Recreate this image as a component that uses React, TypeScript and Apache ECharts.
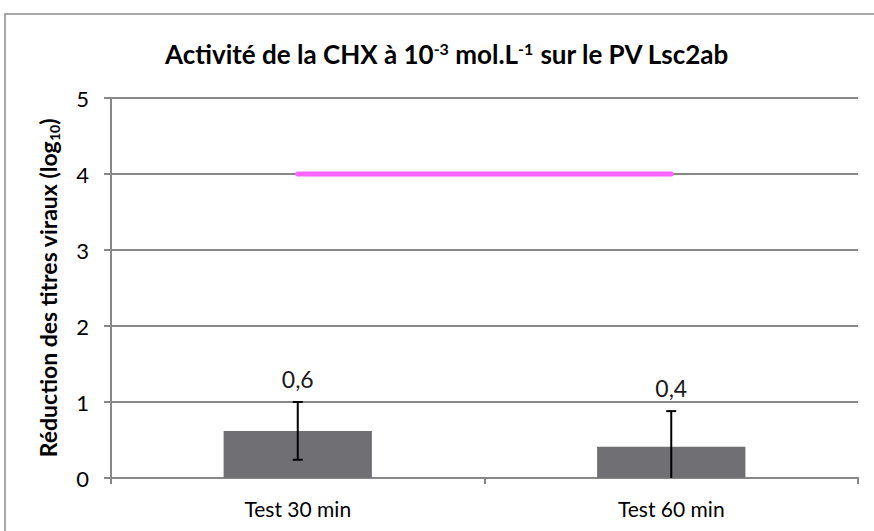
import React, { useEffect, useRef } from "react";
import * as echarts from "echarts";

const categories = ["Test 30 min", "Test 60 min"];
const barValues = [0.62, 0.41];
const errorValues = [0.38, 0.47];
const barLabels = ["0,6", "0,4"];
const referenceLine = [4, 4];
const yTicks = { min: 0, max: 5, interval: 1 };

export default function App() {
  const ref = useRef<HTMLDivElement>(null);
  useEffect(() => {
    document.body.style.margin = "0";
    const chart = echarts.init(ref.current!, null, { renderer: "svg" });
    const font = "Lato, 'Noto Sans', sans-serif";
    const labelDistances = [40, 47];
    chart.setOption({
      animation: false,
      backgroundColor: "#ffffff",
      graphic: [
        {
          type: "rect",
          shape: { x: 5, y: 14, width: 900, height: 600 },
          style: { fill: "none", stroke: "#8a8a8a", lineWidth: 1.5 },
          z: 0,
        },
      ],
      title: {
        text: "Activité de la CHX à 10{sup|-3} mol.L{sup|-1} sur le PV Lsc2ab",
        left: 442,
        textAlign: "center",
        top: 35,
        textStyle: {
          fontFamily: font,
          fontSize: 26,
          fontWeight: "bold",
          color: "#000000",
          rich: {
            sup: {
              fontFamily: font,
              fontSize: 16,
              fontWeight: "bold",
              color: "#000000",
              verticalAlign: "top",
              padding: [0, 0, 12, 0],
            },
          },
        },
      },
      grid: { left: 111, right: 16, top: 98, bottom: 53 },
      xAxis: {
        type: "category",
        data: categories,
        axisLine: { lineStyle: { color: "#878787", width: 2 } },
        axisTick: { show: true, length: 6, lineStyle: { color: "#878787", width: 2 } },
        axisLabel: { fontFamily: font, fontSize: 21, color: "#000000", margin: 20 },
      },
      yAxis: {
        type: "value",
        min: yTicks.min,
        max: yTicks.max,
        interval: yTicks.interval,
        name: "Réduction des titres viraux (log{sub|10})",
        nameLocation: "middle",
        nameGap: 50,
        nameRotate: 90,
        nameTextStyle: {
          fontFamily: font,
          fontSize: 23,
          fontWeight: "bold",
          color: "#000000",
          rich: {
            sub: {
              fontFamily: font,
              fontSize: 14,
              fontWeight: "bold",
              color: "#000000",
              verticalAlign: "bottom",
              padding: [12, 0, 0, 0],
            },
          },
        },
        axisLine: { show: true, lineStyle: { color: "#878787", width: 2 } },
        axisTick: { show: true, length: 7, lineStyle: { color: "#878787", width: 2 } },
        axisLabel: { fontFamily: font, fontSize: 22, color: "#000000", margin: 22 },
        splitLine: { lineStyle: { color: "#878787", width: 2 } },
      },
      series: [
        {
          type: "bar",
          data: barValues.map((v, i) => ({
            value: v,
            label: {
              show: true,
              position: "top",
              distance: labelDistances[i],
              formatter: barLabels[i],
              fontFamily: font,
              fontSize: 23,
              color: "#1a1a1a",
            },
          })),
          barWidth: "39.7%",
          itemStyle: { color: "#706f74" },
          z: 2,
        },
        {
          type: "custom",
          data: barValues.map((v, i) => [i, v, errorValues[i]]),
          renderItem: (params: any, api: any) => {
            const idx = api.value(0);
            const v = api.value(1);
            const e = api.value(2);
            const hi = api.coord([idx, v + e]);
            const lo = api.coord([idx, Math.max(0, v - e)]);
            const cap = 5;
            const style = { stroke: "#000000", lineWidth: 2 };
            const children: any[] = [
              { type: "line", shape: { x1: hi[0], y1: hi[1], x2: lo[0], y2: lo[1] }, style },
              { type: "line", shape: { x1: hi[0] - cap, y1: hi[1], x2: hi[0] + cap, y2: hi[1] }, style },
            ];
            if (v - e > 0) {
              children.push({ type: "line", shape: { x1: lo[0] - cap, y1: lo[1], x2: lo[0] + cap, y2: lo[1] }, style });
            }
            return { type: "group", children };
          },
          z: 4,
        },
        {
          type: "line",
          data: referenceLine,
          symbol: "none",
          lineStyle: { color: "#ff66ff", width: 5, cap: "round" },
          z: 3,
        },
      ],
    });
    return () => chart.dispose();
  }, []);
  return <div ref={ref} style={{ width: 874, height: 531 }} />;
}
